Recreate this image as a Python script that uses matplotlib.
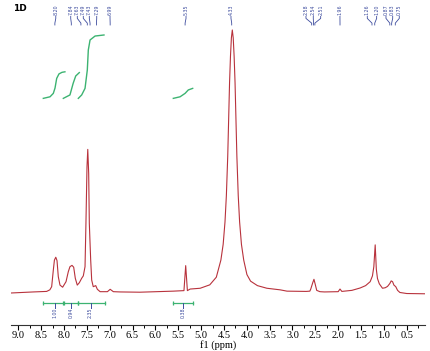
import matplotlib.pyplot as plt
import numpy as np

# spectrum (ppm, intensity; tallest peak = 100)
ppm = [9.16, 8.67, 8.38, 8.31, 8.27, 8.234, 8.21, 8.18, 8.153, 8.125, 8.088, 8.03,
       7.956, 7.906, 7.87, 7.825, 7.788, 7.753, 7.71, 7.665, 7.613, 7.578, 7.54,
       7.52, 7.497, 7.48, 7.46, 7.446, 7.43, 7.416, 7.394, 7.36, 7.306, 7.27, 7.21,
       7.05, 6.99, 6.92, 6.77, 6.34, 5.61, 5.375, 5.337, 5.30, 5.24, 5.02, 4.81,
       4.667, 4.567, 4.517, 4.477, 4.447, 4.417, 4.397, 4.377, 4.357, 4.337,
       4.317,
       4.297, 4.277, 4.257, 4.237, 4.217, 4.187, 4.157, 4.117, 4.067, 3.997,
       3.917, 3.767, 3.56, 3.27, 3.12, 2.70, 2.62, 2.60, 2.555, 2.53,
       2.505, 2.47, 2.40, 2.30, 2.00, 1.96, 1.92, 1.70, 1.52, 1.40, 1.30, 1.25,
       1.22, 1.19, 1.165, 1.14, 1.10, 1.03, 0.97, 0.92, 0.87, 0.84, 0.81, 0.78,
       0.74, 0.70, 0.65, 0.50, 0.10]
intensity = [0.0, 0.4, 0.6, 1.2, 2.4, 8.7, 12.5, 13.6, 12.3, 6.2, 3.0, 2.2,
             4.3, 8.1, 10.0, 10.5, 9.8, 5.6, 3.0, 3.9, 5.6, 6.5, 10.0,
             26.5, 48.0, 54.6, 45.5, 26.5, 18.9, 12.5, 4.9, 2.4, 2.8, 1.4, 0.5,
             0.5, 1.4, 0.5, 0.4, 0.3, 0.7, 0.9, 10.4, 0.9, 1.5, 1.8, 3.1,
             6.0, 12.5, 18.5, 27.0, 37.0, 52.0, 66.0, 80.0, 90.0, 97.0,
             100.0,
             97.0, 90.0, 80.0, 66.0, 52.0, 37.0, 27.0, 18.5, 12.5, 7.0,
             4.5, 2.8, 1.8, 1.2, 0.7, 0.6, 0.7, 1.5, 4.0, 5.2,
             3.5, 1.0, 0.5, 0.4, 0.5, 1.5, 0.6, 1.0, 1.9, 2.8, 4.3, 6.5,
             10.0, 18.3, 9.0, 5.5, 3.5, 1.8, 2.0, 2.5, 3.6, 4.6, 4.3, 3.0,
             2.4, 1.0, 0.2, -0.2, -0.3]

# integral curves
int1_ppm = [8.453, 8.306, 8.234, 8.197, 8.16, 8.11, 8.044, 7.98]
int1_val = [74.0, 74.6, 75.9, 77.9, 81.6, 83.3, 83.9, 84.1]
int2_ppm = [8.015, 7.87, 7.80, 7.744, 7.665]
int2_val = [74.0, 75.3, 79.7, 82.5, 83.8]
int3_ppm = [7.687, 7.613, 7.54, 7.49, 7.468, 7.43, 7.32, 7.125]
int3_val = [74.0, 75.3, 77.8, 84.8, 92.4, 96.2, 97.7, 98.1]
int4_ppm = [5.608, 5.46, 5.35, 5.28, 5.184]
int4_val = [74.0, 74.6, 75.9, 77.2, 77.8]

# integration ranges and values
ranges = [(8.45, 8.02), (7.99, 7.69), (7.69, 7.10), (5.61, 5.17)]
range_labels = ["1.00", "0.94", "2.35", "0.38"]
range_label_ppm = [8.20, 7.85, 7.42, 5.39]

# peak picks
peaks = [8.20, 7.84, 7.63, 7.49, 7.43, 7.29, 6.99, 5.35, 4.33, 2.58, 2.54, 2.51,
         1.96, 1.26, 1.20, 0.87, 0.83, 0.75]
peak_label_ppm = [8.18, 7.853, 7.709, 7.578, 7.446, 7.284, 6.993, 5.33, 4.346,
                  2.705, 2.545, 2.383, 1.961, 1.363, 1.158, 0.954, 0.807, 0.663]

red = '#b8323c'
green = '#3cb371'
blue = '#3d4c9e'

fig = plt.figure(figsize=(4.30, 3.51), dpi=100)
ax = fig.add_axes([11 / 430, 26 / 351, 414 / 430, 325 / 351])

ax.plot(ppm, intensity, color=red, lw=0.8)

for xs, ys in [(int1_ppm, int1_val), (int2_ppm, int2_val),
               (int3_ppm, int3_val), (int4_ppm, int4_val)]:
    ax.plot(xs, ys, color=green, lw=1.0)

yb = -3.8
for (a, b), lab, lx in zip(ranges, range_labels, range_label_ppm):
    ax.plot([a, b], [yb, yb], color=green, lw=0.9)
    ax.plot([a, b], [yb, yb], ls='none', marker='|', ms=3.5, mew=0.9, color=green)
    ax.plot([lx, lx], [yb, -5.6], color=blue, lw=0.7)
    ax.text(lx, -5.6, lab, rotation=90, ha='center', va='top',
            fontsize=3.4, color=blue)

for p, lx in zip(peaks, peak_label_ppm):
    ax.text(lx, 105.6, '%.2f' % p, rotation=90, ha='center', va='bottom',
            fontsize=3.4, color=blue)
    ax.plot([lx, lx, p, p], [105.2, 104.4, 102.6, 101.9], color=blue, lw=0.6)

ax.text(9.12, 108.3, '1D', fontsize=6.5, fontweight='bold', va='center')

ax.set_xlim(9.16, 0.10)
ax.set_ylim(-12.17, 111.4)
for s in ['top', 'left', 'right']:
    ax.spines[s].set_visible(False)
ax.spines['bottom'].set_color('#333333')
ax.set_yticks([])
ax.set_xticks(np.arange(9.0, 0.4, -0.5))
ax.set_xticks(np.arange(9.0, 0.2, -0.25), minor=True)
ax.set_xticklabels(['%.1f' % t for t in np.arange(9.0, 0.4, -0.5)],
                   family='Liberation Serif', fontsize=7.5)
ax.tick_params(axis='x', which='major', length=3.5, width=0.8, pad=0.5)
ax.tick_params(axis='x', which='minor', length=2, width=0.7)
ax.set_xlabel('f1 (ppm)', family='Liberation Serif', fontsize=7.5, labelpad=0)

fig.savefig('out.png', dpi=100)
